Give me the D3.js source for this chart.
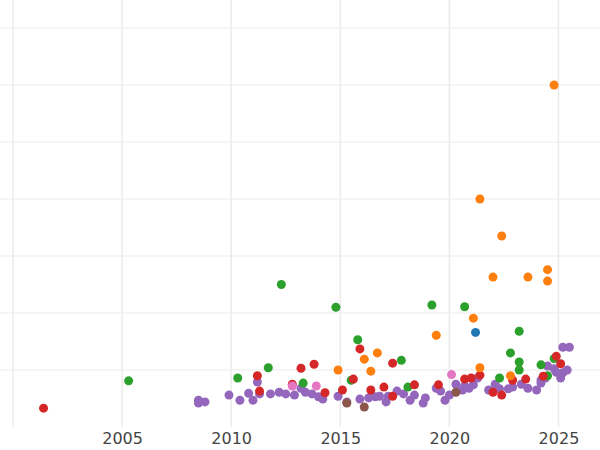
<!DOCTYPE html>
<html><head><meta charset="utf-8">
<script src="https://cdn.jsdelivr.net/npm/d3@7"></script>
<style>body{margin:0;background:#fff}</style>
</head><body><div id="chart"></div>
<script>
// [year, value] per group
var red = [[2001.4,0.33],[2011.2,0.9],[2011.3,0.63],[2012.8,0.75],[2013.2,1.03],[2013.8,1.1],[2014.3,0.6],[2015.1,0.65],[2015.6,0.84],[2015.9,1.37],[2016.4,0.65],[2017.0,0.7],[2017.4,1.12],[2017.4,0.54],[2018.4,0.74],[2019.5,0.74],[2020.7,0.84],[2021.0,0.86],[2021.4,0.91],[2022.0,0.61],[2022.4,0.56],[2022.9,0.82],[2023.5,0.84],[2024.3,0.89],[2024.9,1.24],[2025.1,1.11]];
var orange = [[2024.8,6.0],[2021.4,4.0],[2022.4,3.35],[2022.0,2.63],[2023.6,2.63],[2024.5,2.76],[2024.5,2.56],[2021.1,1.91],[2019.4,1.61],[2014.9,1.0],[2016.1,1.19],[2016.4,0.98],[2016.7,1.3],[2021.4,1.04],[2022.8,0.9]];
var green = [[2005.3,0.81],[2010.3,0.86],[2011.7,1.04],[2012.3,2.5],[2014.8,2.1],[2015.5,0.82],[2015.8,1.53],[2017.8,1.17],[2018.1,0.7],[2019.2,2.14],[2020.7,2.11],[2023.2,1.68],[2022.8,1.3],[2023.2,1.14],[2023.2,1.0],[2022.3,0.86],[2024.2,1.09],[2024.8,1.2],[2024.5,0.9],[2013.3,0.77]];
var blue = [[2021.2,1.66]];
var pink = [[2012.8,0.72],[2013.9,0.72],[2020.1,0.92]];
var brown = [[2015.3,0.42],[2016.1,0.35],[2020.3,0.61]];
var purple = [[2008.5,0.47],[2008.5,0.42],[2008.8,0.44],[2009.9,0.56],[2010.4,0.47],[2010.8,0.59],[2011.0,0.47],[2011.2,0.79],[2011.3,0.58],[2011.8,0.58],[2012.2,0.61],[2012.5,0.58],[2012.9,0.56],[2013.2,0.68],[2013.4,0.61],[2013.7,0.58],[2014.0,0.53],[2014.2,0.49],[2014.9,0.54],[2015.3,0.44],[2015.9,0.49],[2016.3,0.51],[2016.6,0.53],[2016.8,0.54],[2017.1,0.44],[2017.2,0.54],[2017.6,0.63],[2017.9,0.58],[2018.2,0.47],[2018.4,0.56],[2018.8,0.42],[2018.9,0.51],[2019.4,0.68],[2019.6,0.63],[2019.8,0.47],[2020.0,0.56],[2020.3,0.75],[2020.6,0.65],[2020.7,0.72],[2020.9,0.68],[2021.1,0.74],[2021.3,0.86],[2021.8,0.65],[2022.1,0.75],[2022.3,0.67],[2022.7,0.67],[2022.9,0.7],[2023.3,0.75],[2023.6,0.68],[2024.0,0.65],[2024.2,0.77],[2024.4,0.86],[2024.5,1.07],[2024.8,1.02],[2024.9,0.96],[2025.2,1.4],[2025.5,1.4],[2025.1,0.86],[2025.2,0.95],[2025.4,1.0],[2024.2,0.82]];
var xTicks = [2005, 2010, 2015, 2020, 2025];
var yGrid = [1, 2, 3, 4, 5, 6, 7];

var groups = [
	{ pts: purple, color: "#9467bd" },
	{ pts: brown, color: "#8c564b" },
	{ pts: green, color: "#2ca02c" },
	{ pts: red, color: "#d62728" },
	{ pts: orange, color: "#ff7f0e" },
	{ pts: pink, color: "#e377c2" },
	{ pts: blue, color: "#1f77b4" }
];

var width = 600, height = 450;
var x = d3.scaleLinear().domain([2000, 2027.5]).range([13, 613]);
var y = d3.scaleLinear().domain([0, 7]).range([427, 28]);

var svg = d3.select("#chart").append("svg")
	.attr("width", width).attr("height", height);

svg.append("g").selectAll("line.h").data(yGrid).enter().append("line")
	.attr("x1", 0).attr("x2", width)
	.attr("y1", function(d) { return y(d); }).attr("y2", function(d) { return y(d); })
	.attr("stroke", "#ebebeb").attr("stroke-width", 1.2);

svg.append("g").selectAll("line.v").data([2000].concat(xTicks)).enter().append("line")
	.attr("x1", function(d) { return x(d); }).attr("x2", function(d) { return x(d); })
	.attr("y1", 0).attr("y2", 427)
	.attr("stroke", "#ebebeb").attr("stroke-width", 1.5);

var xAxis = svg.append("g").attr("transform", "translate(0,427)")
	.call(d3.axisBottom(x).tickValues(xTicks).tickFormat(d3.format("d")).tickSize(0).tickPadding(6));
xAxis.select(".domain").remove();
xAxis.selectAll("text").attr("fill", "#444").style("font-family", "DejaVu Sans").style("font-size", "16px");

groups.forEach(function(g) {
	svg.append("g").selectAll("circle").data(g.pts).enter().append("circle")
		.attr("cx", function(d) { return x(d[0]); })
		.attr("cy", function(d) { return y(d[1]); })
		.attr("r", 4.5)
		.attr("fill", g.color);
});
</script></body></html>
